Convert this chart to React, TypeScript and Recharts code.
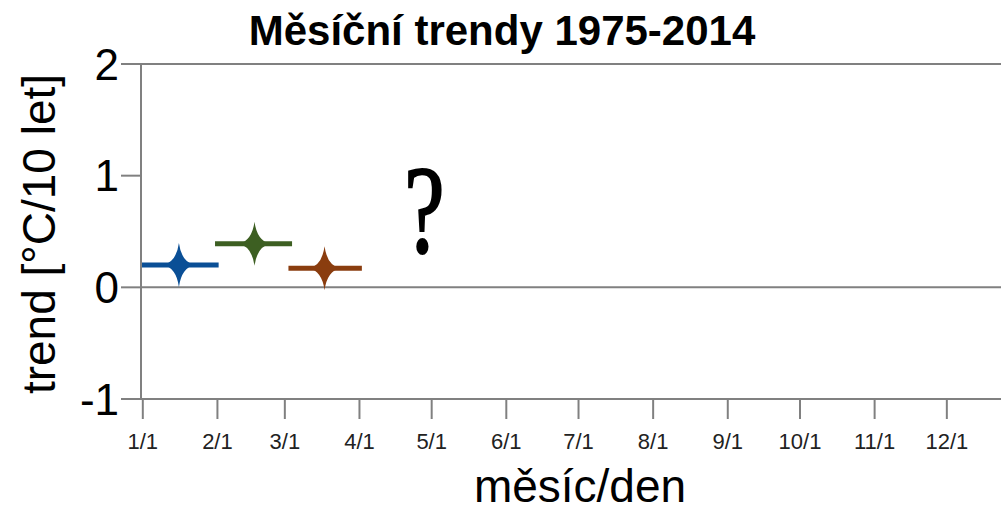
import React from 'react';
import {
  ComposedChart,
  Line,
  Scatter,
  XAxis,
  YAxis,
  ReferenceLine,
  ReferenceDot
} from 'recharts';

// den v roce, kde začíná měsíc, a popisky os
const tickDays = [1, 32, 60, 91, 121, 152, 182, 213, 244, 274, 305, 335];
const tickLabels = ['1/1', '2/1', '3/1', '4/1', '5/1', '6/1', '7/1', '8/1', '9/1', '10/1', '11/1', '12/1'];
const yTicks = [-1, 0, 1, 2];

// měsíční trendy (°C / 10 let) – leden, únor, březen
const trends = [0.2, 0.39, 0.17];
const midDays = [16, 47.4, 76.5];
const segStart = [0.5, 31, 61.5];
const segEnd = [32.5, 63, 92];
const colors = ['#0a4f96', '#3d5f22', '#8a3d0f'];

// otazník pro duben
const pending = { x: 118, y: 0.32, text: '?' };

const W = 1001;
const H = 511;
const SANS = '"Liberation Sans", Arial, Helvetica, sans-serif';
const GRAY = '#808080';

// čtyřcípá hvězda
const Star = (props: any) => {
  const { cx, cy, fill } = props;
  if (cx == null || cy == null) return null;
  const rx = 16;
  const ry = 22;
  const k = 2.6;
  const d =
    `M${cx},${cy - ry} Q${cx + k},${cy - k} ${cx + rx},${cy} ` +
    `Q${cx + k},${cy + k} ${cx},${cy + ry} ` +
    `Q${cx - k},${cy + k} ${cx - rx},${cy} ` +
    `Q${cx - k},${cy - k} ${cx},${cy - ry} Z`;
  return <path d={d} fill={fill} />;
};

const QuestionMark = (props: any) => {
  const { cx, cy } = props;
  if (cx == null || cy == null) return null;
  return (
    <text
      transform={`translate(${cx},${cy}) scale(0.72,1)`}
      textAnchor="middle"
      fontSize={126}
      fontFamily='"Liberation Serif", "Times New Roman", serif'
      fill="#000"
      stroke="#000"
      strokeWidth={2.2}
    >
      {pending.text}
    </text>
  );
};

export default function App() {
  const tickFmt = (v: number) => tickLabels[tickDays.indexOf(v)] ?? '';

  return (
    <div style={{ position: 'absolute', left: 0, top: 0, width: W, height: H, overflow: 'hidden', background: '#fff' }}>
      <ComposedChart width={W} height={H} margin={{ top: 64, right: 0, bottom: 72, left: 41 }}>
        <XAxis
          type="number"
          dataKey="x"
          domain={[0.25, 357.5]}
          ticks={tickDays}
          tickFormatter={tickFmt}
          allowDataOverflow
          height={40}
          tickSize={20}
          tickMargin={14}
          axisLine={{ stroke: GRAY, strokeWidth: 2 }}
          tickLine={{ stroke: GRAY, strokeWidth: 2 }}
          tick={{ fontSize: 22, fill: '#222', fontFamily: SANS }}
          interval={0}
        />
        <YAxis
          type="number"
          domain={[-1, 2]}
          ticks={yTicks}
          allowDataOverflow
          width={100}
          tickSize={20}
          tickMargin={2}
          axisLine={{ stroke: GRAY, strokeWidth: 2 }}
          tickLine={{ stroke: GRAY, strokeWidth: 2 }}
          tick={{ fontSize: 44, fill: '#000', fontFamily: SANS }}
        />
        <ReferenceLine y={2} stroke={GRAY} strokeWidth={2} />
        <ReferenceLine y={0} stroke={GRAY} strokeWidth={2} />

        {trends.map((t, i) => (
          <Line
            key={`seg-${i}`}
            data={[
              { x: segStart[i], y: t },
              { x: segEnd[i], y: t }
            ]}
            dataKey="y"
            stroke={colors[i]}
            strokeWidth={5}
            dot={false}
            activeDot={false}
            isAnimationActive={false}
          />
        ))}
        {trends.map((t, i) => (
          <Scatter
            key={`star-${i}`}
            data={[{ x: midDays[i], y: t }]}
            dataKey="y"
            fill={colors[i]}
            shape={Star}
            isAnimationActive={false}
          />
        ))}
        <ReferenceDot x={pending.x} y={pending.y} r={0} shape={QuestionMark} />
      </ComposedChart>

      <svg width={W} height={H} style={{ position: 'absolute', left: 0, top: 0, pointerEvents: 'none' }}>
        <text x={502} y={45} textAnchor="middle" fontSize={42} fontWeight="bold" fontFamily={SANS} fill="#000">
          Měsíční trendy 1975-2014
        </text>
        <text
          transform="translate(55,234) rotate(-90)"
          textAnchor="middle"
          fontSize={46}
          fontFamily={SANS}
          fill="#000"
        >
          trend [°C/10 let]
        </text>
        <text x={580} y={502} textAnchor="middle" fontSize={46} fontFamily={SANS} fill="#000">
          měsíc/den
        </text>
      </svg>
    </div>
  );
}
